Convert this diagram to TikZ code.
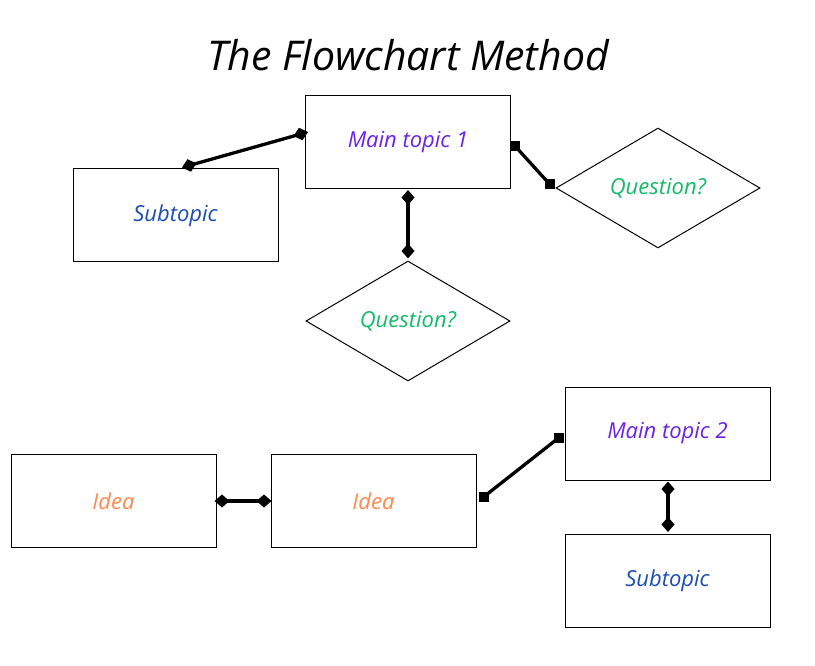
\documentclass[tikz,border=0pt]{standalone}
\usepackage{fontspec}
\setmainfont{Open Sans}
\usetikzlibrary{arrows.meta,shapes.geometric}
\definecolor{cmain}{HTML}{6A22E8}
\definecolor{csub}{HTML}{1B4DB0}
\definecolor{cq}{HTML}{14BA68}
\definecolor{cidea}{HTML}{FF8A4E}
\tikzset{
  box/.style={draw=black, line width=1pt, minimum width=205pt, minimum height=93pt, inner sep=0pt, font=\fontsize{22}{26}\selectfont\itshape},
  dia/.style={draw=black, line width=1pt, diamond, minimum width=204pt, minimum height=120pt, inner sep=0pt, font=\fontsize{22}{26}\selectfont\itshape},
  conn/.style={line width=3.3pt, {Diamond[length=15pt,width=13pt]}-{Diamond[length=15pt,width=13pt]}},
  sconn/.style={line width=3.3pt},
  sq/.style={fill=black, minimum size=10pt, inner sep=0pt, outer sep=0pt},
}
\begin{document}
\begin{tikzpicture}[x=1pt,y=-1pt]
\useasboundingbox[fill=white] (0,0) rectangle (815,666);
\node[font=\fontsize{41}{46}\selectfont\itshape] (title) at (408,55) {The Flowchart Method};
\node[box, text=cmain] (main1) at (408,142) {Main topic 1};
\node[box, text=csub] (sub1) at (175.5,215.5) {Subtopic};
\node[dia, text=cq] (q1) at (658,188) {Question?};
\node[dia, text=cq] (q2) at (408,321) {Question?};
\node[box, text=cidea] (idea1) at (113.5,501) {Idea};
\node[box, text=cidea] (idea2) at (373.5,501) {Idea};
\node[box, text=cmain] (main2) at (667.5,433.5) {Main topic 2};
\node[box, text=csub] (sub2) at (667.5,580.5) {Subtopic};
\coordinate (a1) at ([xshift=4pt,yshift=-4pt]main1.east);
\coordinate (a2) at ([xshift=-6pt,yshift=4pt]q1.west);
\coordinate (b1) at ([xshift=7pt,yshift=4pt]idea2.east);
\coordinate (b2) at ([xshift=-6pt,yshift=-4.5pt]main2.west);
\draw[conn] ([xshift=6.5pt,yshift=1pt]sub1.north) -- ([xshift=3pt,yshift=10pt]main1.west);
\draw[sconn] (a1) -- (a2);
\node[sq] (a1s) at (a1) {};
\node[sq] (a2s) at (a2) {};
\draw[conn] ([yshift=-1pt]main1.south) -- ([yshift=2pt]q2.north);
\draw[conn] ([xshift=-2pt]idea1.east) -- ([xshift=1pt]idea2.west);
\draw[sconn] (b1) -- (b2);
\node[sq] (b1s) at (b1) {};
\node[sq] (b2s) at (b2) {};
\draw[conn] ([xshift=0.5pt,yshift=-1pt]main2.south) -- ([xshift=0.5pt,yshift=1.5pt]sub2.north);
\end{tikzpicture}
\end{document}
